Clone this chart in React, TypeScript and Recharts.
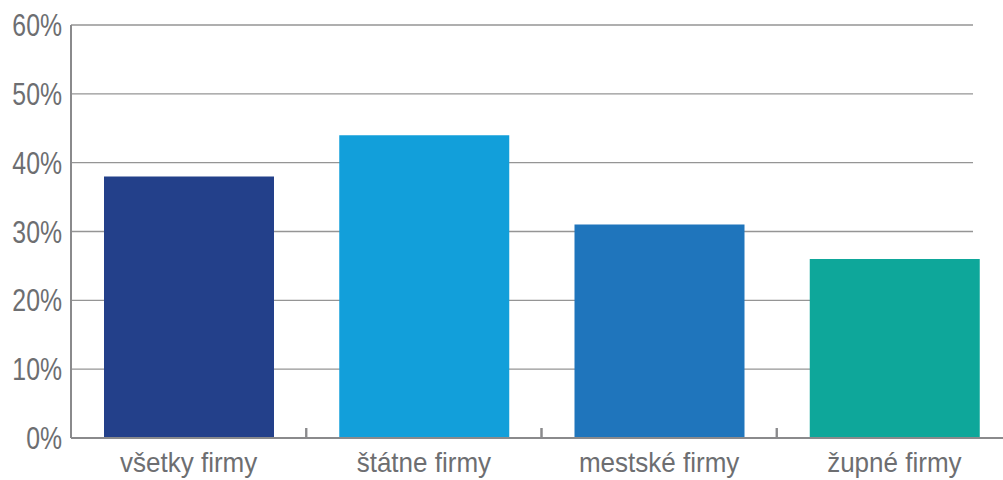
import { BarChart, Bar, XAxis, YAxis, CartesianGrid, Cell } from "recharts";

const categories = ["všetky firmy", "štátne firmy", "mestské firmy", "župné firmy"];
const shares = [38, 44, 31, 26];
const barColors = ["#23408a", "#129fda", "#1f75bc", "#0ea79a"];
const yTicks = [0, 10, 20, 30, 40, 50, 60];

const data = categories.map((name, i) => ({ name, value: shares[i] }));

const FONT = "'Liberation Sans', Arial, sans-serif";
const TEXT = "#6d6e71";
const AXIS = "#8a8a8c";

// category label plus the small upward tick at the left edge of each band
function CategoryTick(props: any) {
  const { x, y, payload } = props;
  const half = payload?.offset ?? 0;
  return (
    <g>
      <line x1={x - half} x2={x - half} y1={y} y2={y - 10} stroke={AXIS} strokeWidth={2} />
      <line x1={x + half} x2={x + half} y1={y} y2={y - 10} stroke={AXIS} strokeWidth={2} />
      <text
        transform={`translate(${x},${y + 34}) scale(0.93,1)`}
        textAnchor="middle"
        fill={TEXT}
        fontSize={28}
        fontFamily={FONT}
      >
        {payload.value}
      </text>
    </g>
  );
}

// narrow percent labels on the value axis
function PercentTick(props: any) {
  const { x, y, payload } = props;
  return (
    <text
      transform={`translate(${x},${y + 11}) scale(0.8,1)`}
      textAnchor="end"
      fill={TEXT}
      fontSize={31}
      fontFamily={FONT}
    >
      {`${payload.value}%`}
    </text>
  );
}

// grid lines stop a bit short of the plot's right edge
function GridLine(props: any) {
  const { x1, x2, y1, y2 } = props;
  return <line x1={x1} x2={x2 - 39} y1={y1} y2={y2} stroke="#959595" strokeWidth={1.3} />;
}

export default function App() {
  return (
    <div style={{ position: "fixed", left: 0, top: 0, width: 1003, height: 480, overflow: "hidden", background: "#fff" }}>
      <BarChart
        width={1012}
        height={480}
        data={data}
        margin={{ top: 25, right: 0, bottom: 0, left: 0 }}
        style={{ overflow: "visible" }}
      >
        <CartesianGrid vertical={false} horizontal={GridLine} />
        <XAxis
          dataKey="name"
          height={42}
          axisLine={{ stroke: AXIS, strokeWidth: 2 }}
          tickLine={false}
          tickSize={0}
          tickMargin={0}
          interval={0}
          tick={<CategoryTick />}
        />
        <YAxis
          width={71}
          domain={[0, 60]}
          ticks={yTicks}
          interval={0}
          axisLine={{ stroke: AXIS, strokeWidth: 2 }}
          tickLine={false}
          tickSize={0}
          tickMargin={9}
          tick={<PercentTick />}
        />
        <Bar dataKey="value" barSize={170} isAnimationActive={false}>
          {data.map((d, i) => (
            <Cell key={d.name} fill={barColors[i]} />
          ))}
        </Bar>
      </BarChart>
    </div>
  );
}
